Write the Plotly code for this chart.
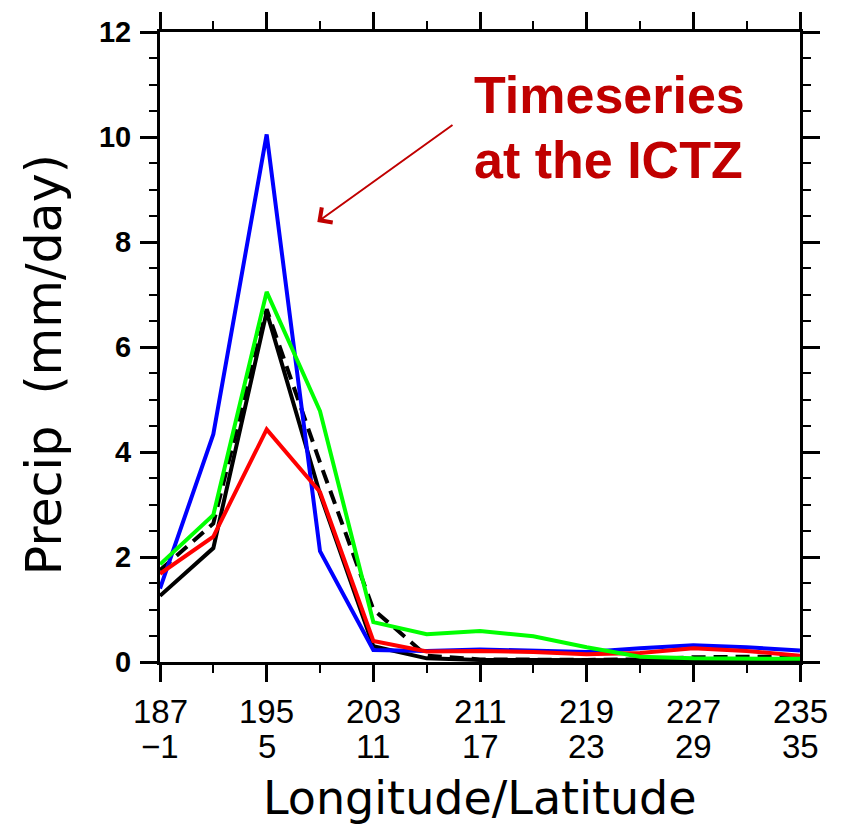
import plotly.graph_objects as go

# ---- data ----
lon = [187, 191, 195, 199, 203, 207, 211, 215, 219, 223, 227, 231, 235]
black_solid = [1.26, 2.17, 6.67, 3.20, 0.30, 0.07, 0.04, 0.04, 0.04, 0.03, 0.03, 0.03, 0.03]
black_dash = [1.75, 2.64, 6.72, 3.80, 1.00, 0.12, 0.05, 0.04, 0.04, 0.05, 0.09, 0.10, 0.10]
blue = [1.40, 4.34, 10.05, 2.11, 0.23, 0.21, 0.24, 0.21, 0.19, 0.26, 0.32, 0.28, 0.22]
red = [1.68, 2.39, 4.43, 3.24, 0.40, 0.20, 0.21, 0.19, 0.15, 0.17, 0.26, 0.21, 0.12]
green = [1.86, 2.80, 7.05, 4.78, 0.76, 0.53, 0.59, 0.49, 0.28, 0.10, 0.07, 0.07, 0.06]

lon_ticks = [187, 195, 203, 211, 219, 227, 235]
lon_labels = ["187", "195", "203", "211", "219", "227", "235"]
lat_labels = ["\u22121", "5", "11", "17", "23", "29", "35"]
y_ticks = [0, 2, 4, 6, 8, 10, 12]

LW = 4
fig = go.Figure()
series = [
    (black_solid, "black", "solid"),
    (black_dash, "black", "14px,8px"),
    (blue, "#0000FF", "solid"),
    (red, "#FF0000", "solid"),
    (green, "#00FF00", "solid"),
]
for vals, col, dash in series:
    fig.add_trace(go.Scatter(x=lon, y=vals, mode="lines",
                             line=dict(color=col, width=LW, dash=dash),
                             showlegend=False))

axis_common = dict(showgrid=False, zeroline=False, showline=True, linecolor="black",
                   linewidth=3, mirror="allticks", ticks="outside", ticklen=17,
                   tickwidth=3, tickcolor="black")

fig.update_xaxes(range=[187, 235], tickvals=lon_ticks, showticklabels=False,
                 minor=dict(dtick=4, tick0=187, ticklen=8, tickwidth=2,
                            tickcolor="black", ticks="outside"),
                 **axis_common)
fig.update_yaxes(range=[0, 12], tickvals=y_ticks,
                 tickfont=dict(family="Liberation Sans", size=29, color="black",
                               weight="bold"),
                 ticklabelstandoff=3,
                 minor=dict(dtick=0.5, tick0=0, ticklen=8, tickwidth=2,
                            tickcolor="black", ticks="outside"),
                 **axis_common)

W, H = 842, 824
L, R, T, B = 160, 42, 25, 162
pw, ph = W - L - R, H - T - B


def py(p):
    return (H - B - p) / ph


def px(p):
    return (p - L) / pw


ann = []
for xv, a, b in zip(lon_ticks, lon_labels, lat_labels):
    ann.append(dict(x=xv, y=py(712), xref="x", yref="paper", text=a, showarrow=False,
                    xanchor="center", yanchor="middle",
                    font=dict(family="Liberation Sans", size=33, color="black")))
    ann.append(dict(x=xv, y=py(747), xref="x", yref="paper", text=b, showarrow=False,
                    xanchor="center", yanchor="middle",
                    font=dict(family="Liberation Sans", size=33, color="black")))

ann.append(dict(x=0.5, y=py(800), xref="paper", yref="paper", text="Longitude/Latitude",
                showarrow=False, xanchor="center", yanchor="middle",
                font=dict(family="DejaVu Sans", size=46, color="black")))
ann.append(dict(x=px(44), y=py(362), xref="paper", yref="paper", text="Precip\u00a0 (mm/day)",
                showarrow=False, xanchor="center", yanchor="middle", textangle=-90,
                font=dict(family="DejaVu Sans", size=49, color="black")))

red_dark = "#C00000"
ann.append(dict(x=px(472), y=py(89), xref="paper", yref="paper", text="<b>Timeseries</b>",
                showarrow=False, xanchor="left", yanchor="middle",
                font=dict(family="Liberation Sans", size=52, color=red_dark)))
ann.append(dict(x=px(472), y=py(154), xref="paper", yref="paper", text="<b>at the ICTZ</b>",
                showarrow=False, xanchor="left", yanchor="middle",
                font=dict(family="Liberation Sans", size=52, color=red_dark)))
# arrow
ann.append(dict(x=198.8, y=8.38, xref="x", yref="y", ax=209.05, ay=10.25,
                axref="x", ayref="y", text="", showarrow=True, arrowhead=4,
                arrowsize=1.8, arrowwidth=2, arrowcolor=red_dark, standoff=0))

fig.update_layout(width=W, height=H, margin=dict(l=L, r=R, t=T, b=B),
                  plot_bgcolor="white", paper_bgcolor="white", annotations=ann)

fig.write_html("out.html")
